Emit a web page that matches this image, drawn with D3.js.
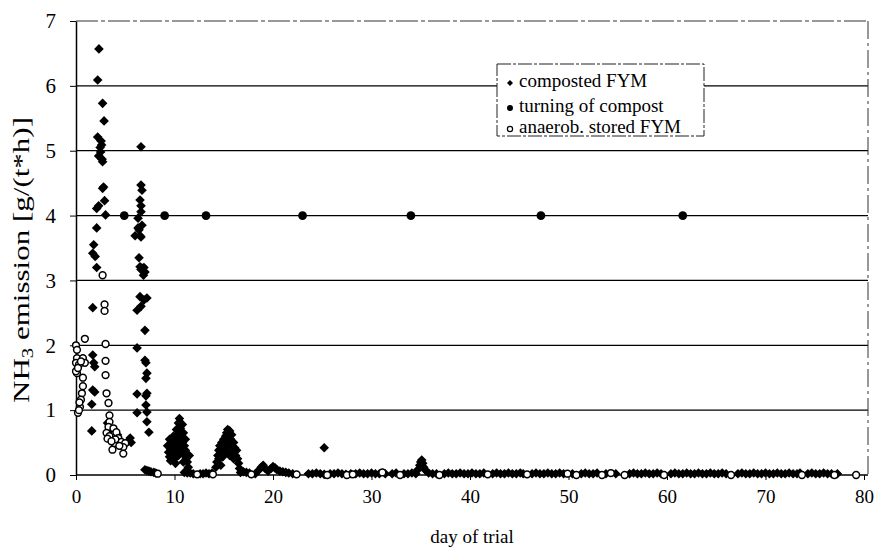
<!DOCTYPE html>
<html><head><meta charset="utf-8">
<script src="https://cdn.jsdelivr.net/npm/d3@7"></script>
<style>body{margin:0;background:#fff}svg{display:block}text{font-family:"Liberation Serif","Times New Roman",serif;fill:#000}</style>
</head><body><svg id="c" width="874" height="550"></svg>
<script>
// ---- data (day of trial, NH3 emission g/(t*h)) ----
const xTicks = [0,10,20,30,40,50,60,70,80];
const yTicks = [0,1,2,3,4,5,6,7];
const seriesNames = ["composted FYM","turning of compost","anaerob. stored FYM"];

const compostedPeaks = [
[2.33,6.57],[2.2,6.09],[2.7,5.73],[2.85,5.46],[2.2,5.21],[2.6,5.09],[2.5,4.98],[2.3,4.92],[2.7,4.83],[2.65,4.87],[2.45,5.05],[2.55,5.15],
[2.8,4.44],[2.7,4.42],[2.9,4.23],[2.3,4.15],[2.1,4.11],[3.0,4.01],[2.1,3.81],[1.8,3.55],[1.7,3.42],[1.95,3.37],[2.1,3.2],[1.7,2.58],
[1.7,1.85],[1.8,1.73],[1.9,1.67],[1.7,1.31],[1.9,1.28],[1.6,1.09],[1.6,0.68],
[3.2,0.8],[3.5,0.68],[3.9,0.58],[4.2,0.62],[5.3,0.52],[5.5,0.57],[5.6,0.5],
[6.6,5.06],[6.6,4.47],[6.7,4.39],[6.5,4.24],[6.6,4.15],[6.6,4.06],[6.3,3.96],[6.7,3.85],[6.3,3.81],[6.0,3.69],[6.5,3.69],[6.4,3.78],[6.6,3.67],
[6.4,3.35],[6.5,3.21],[6.7,3.19],[6.8,3.15],[7.0,3.13],[6.85,3.08],[6.6,3.17],[6.9,3.2],[6.5,2.75],[7.2,2.73],[6.9,2.7],[6.6,2.6],[6.2,2.54],
[7.0,2.23],[6.2,1.96],[7.0,1.77],[7.1,1.73],[7.2,1.57],[7.1,1.49],[6.2,1.25],[7.2,1.26],[7.1,1.22],[7.1,1.08],[6.2,0.96],[7.2,0.97],[7.2,0.82],[7.4,0.66]
];
const compostedLater = [
[7.0,0.08],[7.2,0.07],[7.4,0.06],[7.6,0.05],[7.9,0.04],[8.1,0.03],
[9.3,0.45],[9.4,0.35],[9.5,0.28],[9.6,0.4],[9.7,0.5],[9.8,0.32],[9.9,0.6],[10.0,0.45],[10.0,0.25],[10.1,0.55],[10.2,0.7],[10.2,0.38],[10.3,0.62],
[10.3,0.48],[10.4,0.8],[10.4,0.3],[10.5,0.87],[10.5,0.55],[10.6,0.72],[10.6,0.42],[10.7,0.6],[10.7,0.35],[10.8,0.78],[10.8,0.5],[10.9,0.65],
[11.0,0.45],[11.0,0.3],[11.1,0.55],[11.1,0.38],[11.2,0.25],[11.3,0.2],[11.4,0.12],[11.5,0.3],[9.6,0.22],[10.9,0.2],[9.5,0.55],[10.1,0.18],
[11.0,0.04],[11.3,0.03],[11.6,0.03],[11.9,0.02],[12.6,0.02],[12.9,0.02],[13.2,0.03],[13.5,0.02],[13.8,0.03],
[14.2,0.12],[14.3,0.2],[14.4,0.3],[14.5,0.38],[14.5,0.25],[14.6,0.45],[14.7,0.33],[14.8,0.5],[14.8,0.4],[14.9,0.28],[15.0,0.55],[15.0,0.42],
[15.1,0.35],[15.2,0.6],[15.2,0.48],[15.3,0.65],[15.3,0.38],[15.4,0.7],[15.4,0.52],[15.5,0.62],[15.5,0.44],[15.6,0.68],[15.6,0.3],[15.7,0.55],
[15.8,0.48],[15.8,0.62],[15.9,0.35],[16.0,0.5],[16.1,0.42],[16.2,0.3],[16.3,0.38],[16.4,0.25],[16.5,0.18],[16.6,0.1],[16.0,0.25],[14.7,0.15],
[16.7,0.04],[17.0,0.05],[17.3,0.04],[17.6,0.03],[18.2,0.02],
[18.6,0.08],[18.8,0.12],[19.0,0.15],[19.2,0.1],[19.5,0.06],[19.8,0.1],[20.0,0.13],[20.2,0.11],[20.4,0.08],[20.7,0.06],[21.0,0.05],[21.3,0.04],[21.6,0.03],[22.0,0.02],
[25.2,0.42],
[34.7,0.08],[34.9,0.15],[35.0,0.2],[35.1,0.23],[35.2,0.18],[35.3,0.12],[35.5,0.07]
];
const compostedBaseline = [
[23.6,.02],[24.0,.02],[24.4,.03],[24.8,.02],[25.2,.01],[25.8,.02],[26.2,.02],[26.6,.03],[27.0,.02],[27.4,.01],[27.9,.02],[28.4,.02],[28.8,.03],
[29.2,.02],[29.6,.02],[30.0,.03],[30.4,.02],[30.8,.02],[31.4,.02],[32.1,.02],[32.5,.03],[33.3,.02],[33.7,.02],[34.1,.03],[34.5,.02],[35.8,.03],
[36.2,.02],[36.6,.02],[37.4,.02],[37.8,.03],[38.2,.02],[38.6,.02],[39.0,.03],[39.4,.02],[39.8,.02],[40.2,.03],[40.6,.02],[41.0,.02],[41.4,.03],
[42.3,.02],[42.7,.03],[43.1,.02],[43.5,.02],[43.9,.03],[44.3,.02],[44.7,.02],[45.1,.03],[45.4,.02],[46.3,.02],[46.7,.03],[47.1,.02],[47.5,.02],
[47.9,.03],[48.3,.02],[48.7,.02],[49.1,.03],[49.5,.02],[50.4,.02],[51.3,.02],[51.7,.03],[52.1,.02],[52.5,.02],[52.9,.03],[53.8,.02],[54.8,.02],
[56.2,.02],[56.6,.03],[57.0,.02],[57.4,.02],[57.8,.03],[58.2,.02],[58.6,.02],[59.0,.03],[59.4,.02],[60.4,.02],[60.8,.03],[61.2,.02],[61.6,.02],
[62.0,.03],[62.4,.02],[62.8,.02],[63.2,.03],[63.6,.02],[64.0,.02],[64.4,.03],[64.8,.02],[65.2,.02],[65.6,.03],[66.0,.02],[67.2,.02],[67.6,.03],
[68.0,.02],[68.4,.02],[68.8,.03],[69.2,.02],[69.6,.02],[70.0,.03],[70.4,.02],[70.8,.02],[71.2,.03],[71.6,.02],[72.0,.02],[72.4,.03],[72.8,.02],
[73.2,.02],[73.5,.03],[74.3,.02],[74.7,.03],[75.1,.02],[75.5,.02],[75.9,.03],[76.3,.02],[76.7,.02],[77.3,.02]
];
const turningOfCompost = [[4.9,4],[9.0,4],[13.2,4],[23.0,4],[34.0,4],[47.2,4],[61.6,4]];
const anaerobStored = [
[2.7,3.08],[2.9,2.63],[2.9,2.53],[0.9,2.1],[3.0,2.02],[0.0,2.0],[0.1,1.93],[0.1,1.8],[0.0,1.73],[0.7,1.8],[0.9,1.73],[0.3,1.7],[0.1,1.57],
[0.7,1.5],[0.7,1.37],[0.6,1.26],[0.5,1.16],[0.4,1.05],[0.2,0.96],[0.3,1.0],[0.35,1.12],[3.0,1.76],[3.0,1.54],[3.1,1.26],[3.3,1.11],[0.0,1.6],[0.2,1.65],[0.5,1.75],
[3.4,0.92],[3.4,0.82],[3.3,0.74],[3.8,0.72],[3.1,0.65],[3.8,0.62],[4.1,0.66],[3.4,0.6],[4.3,0.57],[4.6,0.51],[3.9,0.49],[5.0,0.49],[3.7,0.39],
[4.8,0.43],[4.8,0.33],[3.2,0.56],[4.0,0.55],[4.4,0.45],[3.6,0.52],
[8.3,0.02],[12.3,0.01],[13.9,0.01],[17.8,0.01],[22.4,0.01],[25.5,0.0],[27.5,0.0],[28.1,0.01],[31.1,0.04],[32.9,0.0],[36.9,0.0],[41.8,0.01],
[45.8,0.01],[49.9,0.02],[50.8,0.0],[53.4,0.0],[54.3,0.03],[55.7,0.0],[59.7,0.0],[66.5,0.0],[73.7,0.0],[77.0,0.0],[79.2,0.0]
];

// ---- layout ----
const L = 76, R = 868, T = 21, B = 475;
const svg = d3.select("#c");
const x = d3.scaleLinear().domain([0,80]).range([L,864]);
const y = d3.scaleLinear().domain([0,7]).range([B,T]);

// gridlines
svg.append("g").selectAll("line").data(yTicks.filter(v=>v>0 && v<7)).join("line")
  .attr("x1",L).attr("x2",R).attr("y1",d=>y(d)).attr("y2",d=>y(d))
  .attr("stroke","#000").attr("stroke-width",1.2);
// top & right border
svg.append("line").attr("x1",L).attr("x2",R).attr("y1",y(7)).attr("y2",y(7))
  .attr("stroke","#333").attr("stroke-width",1).attr("stroke-dasharray","22,3,4,3");
svg.append("line").attr("x1",R).attr("x2",R).attr("y1",y(7)).attr("y2",B)
  .attr("stroke","#333").attr("stroke-width",1).attr("stroke-dasharray","18,4,3,4");

// axes
const xAxis = svg.append("g").attr("transform",`translate(0,${B})`)
  .call(d3.axisBottom(x).tickValues(xTicks).tickSize(5).tickSizeOuter(0).tickFormat(d3.format("d")));
xAxis.select(".domain").attr("d",`M${L},0H${R}`).attr("stroke","#000").attr("stroke-width",1.5);
xAxis.selectAll("text").attr("font-size",19).attr("dy","1.05em").style("font-family",'"Liberation Serif",serif');
const yAxis = svg.append("g").attr("transform",`translate(${L},0)`)
  .call(d3.axisLeft(y).tickValues(yTicks).tickSize(6).tickSizeOuter(0).tickFormat(d3.format("d")));
yAxis.select(".domain").attr("stroke","#000").attr("stroke-width",1.5);
yAxis.selectAll("text").attr("font-size",21).attr("x",-20).style("font-family",'"Liberation Serif",serif');

// marks
const diamond = r => `M0,${-r}L${r},0L0,${r}L${-r},0Z`;
const allComposted = compostedPeaks.concat(compostedLater, compostedBaseline);
svg.append("g").selectAll("path").data(allComposted).join("path")
  .attr("transform",d=>`translate(${x(d[0])},${y(d[1])})`).attr("d",diamond(4.8)).attr("fill","#000");
svg.append("g").selectAll("circle").data(turningOfCompost).join("circle")
  .attr("cx",d=>x(d[0])).attr("cy",d=>y(d[1])).attr("r",4.4).attr("fill","#000");
svg.append("g").selectAll("circle").data(anaerobStored).join("circle")
  .attr("cx",d=>x(d[0])).attr("cy",d=>y(d[1])).attr("r",3.4).attr("fill","#fff").attr("stroke","#000").attr("stroke-width",1.5);

// axis titles
svg.append("text").attr("x",(L+R)/2).attr("y",543).attr("text-anchor","middle").attr("font-size",19).text("day of trial");
const yl = svg.append("text").attr("transform",`translate(29,260) rotate(-90)`).attr("text-anchor","middle")
  .attr("font-size",24).attr("textLength",286).attr("lengthAdjust","spacingAndGlyphs");
yl.append("tspan").text("NH");
yl.append("tspan").attr("font-size",16).attr("dy",4).text("3");
yl.append("tspan").attr("dy",-4).text(" emission [g/(t*h)]");

// legend
const lg = svg.append("g").attr("transform","translate(497,64)");
lg.append("rect").attr("width",207).attr("height",72).attr("fill","#fff").attr("stroke","#222").attr("stroke-width",1).attr("stroke-dasharray","14,2,3,2");
const rows = [16,41,62];
lg.append("path").attr("transform",`translate(13,${rows[0]+3})`).attr("d",diamond(3)).attr("fill","#000");
lg.append("circle").attr("cx",13).attr("cy",rows[1]+3).attr("r",3).attr("fill","#000");
lg.append("circle").attr("cx",13).attr("cy",rows[2]+3).attr("r",2.6).attr("fill","#fff").attr("stroke","#000").attr("stroke-width",1.2);
lg.selectAll("text.l").data(seriesNames).join("text").attr("class","l")
  .attr("x",22).attr("y",(d,i)=>rows[i]).attr("dy","0.35em").attr("font-size",19).text(d=>d);
</script></body></html>
